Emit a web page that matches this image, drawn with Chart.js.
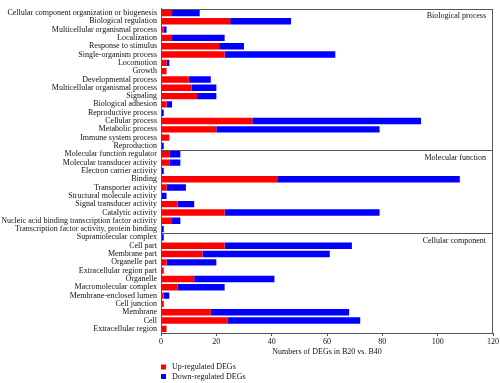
<!DOCTYPE html>
<html>
<head>
<meta charset="utf-8">
<script src="https://cdn.jsdelivr.net/npm/chart.js@4/dist/chart.umd.min.js"></script>
<style>
html,body{margin:0;padding:0;background:#fff;}
#wrap{width:500px;height:383px;position:relative;}
</style>
</head>
<body>
<div id="wrap"><canvas id="c" width="500" height="383"></canvas></div>
<script>
const categories = [
  "Cellular component organization or biogenesis","Biological regulation","Multicellular organismal process",
  "Localization","Response to stimulus","Single-organism process","Locomotion","Growth",
  "Developmental process","Multicellular organismal process","Signaling","Biological adhesion",
  "Reproductive process","Cellular process","Metabolic process","Immune system process","Reproduction",
  "Molecular function regulator","Molecular transducer activity","Electron carrier activity","Binding",
  "Transporter activity","Structural molecule activity","Signal transducer activity","Catalytic activity",
  "Nucleic acid binding transcription factor activity","Transcription factor activity, protein binding",
  "Supramolecular complex","Cell part","Membrane part","Organelle part","Extracellular region part",
  "Organelle","Macromolecular complex","Membrane-enclosed lumen","Cell junction","Membrane","Cell",
  "Extracellular region"
];
const upRegulated = [4,25,1,4,21,23,2,2,10,11,13,2,0,33,20,3,0, 3,3,0,42,2,0,6,23,4,0, 0,23,15,2,1,12,6,1,1,18,24,2];
const downRegulated = [10,22,1,19,9,40,1,0,8,9,7,2,1,61,59,0,1, 4,4,1,66,7,2,6,56,3,1, 1,46,46,18,0,29,17,2,0,50,48,0];
const groupNames = ["Biological process","Molecular function","Cellular component"];
const groupStarts = [0,17,27];
const xTicks = [0,20,40,60,80,100,120];
const seriesLabels = ["Up-regulated DEGs","Down-regulated DEGs"];
const axisTitle = "Numbers of DEGs in B20 vs. B40";

const FONT = "'Liberation Serif', 'Times New Roman', serif";
const FRAME = "#555555";

const decor = {
  id: 'decor',
  afterDraw(chart) {
    const {ctx, chartArea: a, scales: {y}} = chart;
    ctx.save();
    ctx.strokeStyle = FRAME;
    ctx.lineWidth = 1;
    // frame
    ctx.strokeRect(Math.round(a.left) + 0.5, Math.round(a.top) + 0.5, Math.round(a.right - a.left) - 1, Math.round(a.bottom - a.top));
    // separators and group labels
    ctx.font = "8px " + FONT;
    ctx.fillStyle = "#111";
    ctx.textAlign = 'right';
    ctx.textBaseline = 'middle';
    groupStarts.forEach((s, i) => {
      let topY;
      if (s > 0) {
        const yy = Math.round(y.getPixelForValue(s - 0.5)) + 0.5;
        ctx.beginPath();
        ctx.moveTo(a.left, yy);
        ctx.lineTo(a.right, yy);
        ctx.stroke();
        topY = yy;
      } else {
        topY = a.top;
      }
      ctx.fillText(groupNames[i], a.right - 7, topY + 7.5);
    });
    // legend
    const ds = chart.data.datasets;
    ds.forEach((d, i) => {
      const cy = 367 + i * 9.5;
      ctx.fillStyle = d.backgroundColor;
      ctx.fillRect(161, cy - 2.5, 5, 5);
      ctx.fillStyle = "#111";
      ctx.textAlign = 'left';
      ctx.fillText(d.label, 172, cy);
    });
    ctx.restore();
  }
};

new Chart(document.getElementById('c'), {
  type: 'bar',
  data: {
    labels: categories,
    datasets: [
      {label: seriesLabels[0], data: upRegulated, backgroundColor: '#ff0000', borderWidth: 0,
       categoryPercentage: 0.9, barPercentage: 0.85},
      {label: seriesLabels[1], data: downRegulated, backgroundColor: '#0000ff', borderWidth: 0,
       categoryPercentage: 0.9, barPercentage: 0.85}
    ]
  },
  options: {
    indexAxis: 'y',
    responsive: false,
    animation: false,
    devicePixelRatio: 1,
    layout: {padding: {top: 1, right: 6, bottom: 26, left: 0}},
    plugins: {legend: {display: false}, tooltip: {enabled: false}},
    scales: {
      x: {
        stacked: true,
        min: 0, max: 120,
        afterBuildTicks: (s) => { s.ticks = xTicks.map(v => ({value: v})); },
        afterFit: (s) => { s.height = 24; },
        grid: {display: true, drawOnChartArea: false, tickLength: 3, color: FRAME},
        border: {display: true, color: FRAME},
        ticks: {font: {family: FONT, size: 8}, color: '#111', padding: 1, maxRotation: 0},
        title: {display: true, text: axisTitle, font: {family: FONT, size: 8}, color: '#111', padding: {top: 0, bottom: 0}}
      },
      y: {
        stacked: true,
        afterFit: (s) => { s.width = 161; },
        grid: {display: false, drawTicks: false},
        border: {display: true, color: FRAME},
        ticks: {font: {family: FONT, size: 8}, color: '#111', padding: 4, autoSkip: false}
      }
    }
  },
  plugins: [decor]
});
</script>
</body>
</html>
